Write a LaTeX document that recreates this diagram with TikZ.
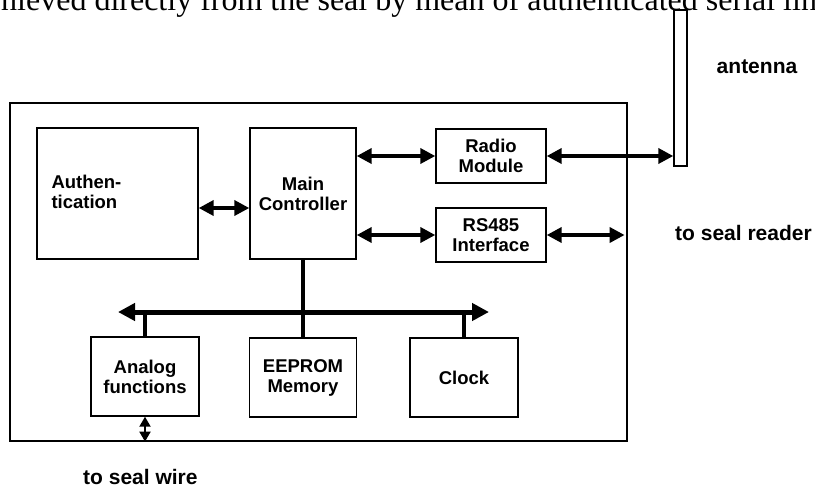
\documentclass[tikz,border=0pt]{standalone}
\usepackage{fontspec}
\setmainfont{Liberation Sans}
\newfontfamily\serifft{Liberation Serif}
\usetikzlibrary{arrows.meta,calc}
\begin{document}
\begin{tikzpicture}[x=1pt,y=-1pt,
  blk/.style={draw,line width=1.4pt,inner sep=0pt,font=\bfseries\fontsize{18.5}{20}\selectfont,align=center},
  dar/.style={line width=3.6pt,{Triangle[length=15pt,width=15pt]}-{Triangle[length=15pt,width=15pt]}},
  busar/.style={line width=5pt,{Triangle[length=17pt,width=17pt]}-{Triangle[length=17pt,width=17pt]}},
  sar/.style={line width=2pt,{Triangle[length=10pt,width=11pt]}-{Triangle[length=10pt,width=11pt]}},
  stub/.style={line width=4.5pt},
  lab/.style={font=\bfseries\fontsize{21}{24}\selectfont,inner sep=0pt}]
\useasboundingbox (0,0) rectangle (815,488);
\clip (0,0) rectangle (815,488);
% cropped body text line at top
\node[anchor=base west,inner sep=0pt,font=\serifft\fontsize{32}{36}\selectfont] (toptext) at (1,10) {hieved directly from the seal by mean of authenticated serial lin};
% outer box
\node[draw,line width=1.2pt,minimum width=617pt,minimum height=338pt,inner sep=0pt] (outer) at (318.5,272) {};
% blocks
\node[blk,minimum width=161pt,minimum height=131pt,inner sep=0pt] (auth) at (117.5,193.5) {};
\node[font=\bfseries\fontsize{18.5}{20}\selectfont,align=left,anchor=west,inner sep=0pt] (authtxt) at ([xshift=15pt,yshift=2pt]auth.west) {Authen-\\tication};
\node[blk,minimum width=106pt,minimum height=131pt] (mc) at (303,193.5) {Main\\Controller};
\node[blk,minimum width=110pt,minimum height=54pt] (radio) at (491,156) {Radio\\Module};
\node[blk,minimum width=110pt,minimum height=54pt] (rs) at (491,235) {RS485\\Interface};
\node[blk,minimum width=108pt,minimum height=79pt] (analog) at (145,376.5) {Analog\\functions};
\node[blk,minimum width=107pt,minimum height=79pt] (eeprom) at (303,377.5) {EEPROM\\Memory};
\node[blk,minimum width=108pt,minimum height=79pt] (clock) at (464,377.5) {Clock};
% antenna
\node[draw,line width=1.4pt,minimum width=13pt,minimum height=156pt,inner sep=0pt] (ant) at (680.5,88) {};
% labels
\node[lab] (antlab) at (757,67) {antenna};
\node[lab,anchor=west] (readerlab) at (675,233) {to seal reader};
\node[lab,anchor=west] (wirelab) at (83,477) {to seal wire};
% bus
\coordinate (busL) at (118,312);
\coordinate (busR) at (489,312);
\draw[stub] (mc.south) -- (eeprom.north);
\draw[stub] (analog.north) -- (analog.north |- busL);
\draw[stub] (clock.north) -- (clock.north |- busL);
\draw[busar] (busL) -- (busR);
% connectors
\draw[dar] ([yshift=-14.5pt]mc.west -| auth.east) -- ([yshift=-14.5pt]mc.west);
\draw[dar] (mc.east |- radio.west) -- (radio.west);
\draw[dar] (mc.east |- rs.west) -- (rs.west);
\draw[dar] (radio.east) -- (ant.west |- radio.east);
\coordinate (rsend) at ([xshift=-3pt]outer.east |- rs.east);
\draw[dar] (rs.east) -- (rsend);
\draw[sar] (analog.south) -- (analog.south |- outer.south);
\end{tikzpicture}
\end{document}
